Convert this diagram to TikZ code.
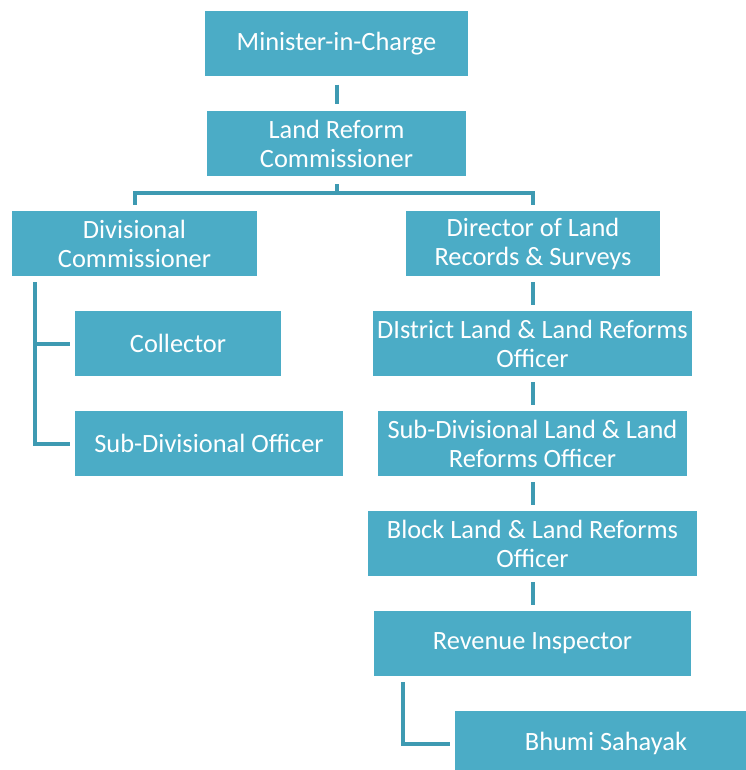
\documentclass[tikz,border=0pt]{standalone}
\usepackage{fontspec}
\setmainfont{Carlito}
\definecolor{boxblue}{HTML}{4BACC6}
\definecolor{lineblue}{HTML}{3E9AB2}

\begin{document}
\begin{tikzpicture}[x=1pt, y=-1pt,
    box/.style={fill=boxblue, text=white, inner sep=0pt, align=center,
      minimum height=65pt, font=\fontsize{26.4}{29}\selectfont},
    link/.style={draw=lineblue, line width=4pt}]
      \useasboundingbox (0,0) rectangle (745,770);

      \node[box, minimum width=263pt] (min) at (336.5,44) {Minister-in-Charge};
      \node[box, minimum width=259pt] (lrc) at (336.5,143.5) {Land Reform\\Commissioner};

      \node[box, minimum width=245pt] (dc) at (134.5,243.5) {Divisional\\Commissioner};
      \node[box, minimum width=206pt] (col) at (178,343.5) {Collector};
      \node[box, minimum width=268pt] (sdo) at (209,443.5) {Sub-Divisional Officer};

      \node[box, minimum width=254pt] (dlrs) at (533,243.5) {Director of Land\\Records \& Surveys};
      \node[box, minimum width=319pt] (dlo) at (532.5,343.5) {DIstrict Land \& Land Reforms\\Officer};
      \node[box, minimum width=309pt] (sdlo) at (532.5,443.5) {Sub-Divisional Land \& Land\\Reforms Officer};
      \node[box, minimum width=329pt] (blo) at (532.5,543.5) {Block Land \& Land Reforms\\Officer};
      \node[box, minimum width=317pt] (ri) at (532.5,643.5) {Revenue Inspector};
      \node[box, minimum width=302pt] (bs) at (606,743.5) {Bhumi Sahayak};

      \draw[link, shorten <=8pt, shorten >=7pt] (min.south) -- (lrc.north);

      \coordinate (split) at (336.5,193);
      \draw[link, shorten <=8pt] (lrc.south) -- (split);
      \draw[link, shorten >=6pt] (split) -| (dc.north);
      \draw[link, shorten >=6pt] (split) -| (dlrs.north);

      \coordinate (trunk) at ([xshift=23pt, yshift=-6pt]dc.south west);
      \draw[link] (trunk) |- ([xshift=-5pt]sdo.west);
      \draw[link, shorten <=5pt] (col.west) -- (col.west -| trunk);

      \draw[link, shorten <=6pt, shorten >=6pt] (dlrs.south) -- (dlrs.south |- dlo.north);
      \draw[link, shorten <=6pt, shorten >=6pt] (dlo.south) -- (sdlo.north);
      \draw[link, shorten <=6pt, shorten >=6pt] (sdlo.south) -- (blo.north);
      \draw[link, shorten <=6pt, shorten >=6pt] (blo.south) -- (ri.north);

      \coordinate (rtrunk) at ([xshift=29pt, yshift=-6pt]ri.south west);
      \draw[link] (rtrunk) |- ([xshift=-5pt]bs.west);
\end{tikzpicture}
\end{document}
